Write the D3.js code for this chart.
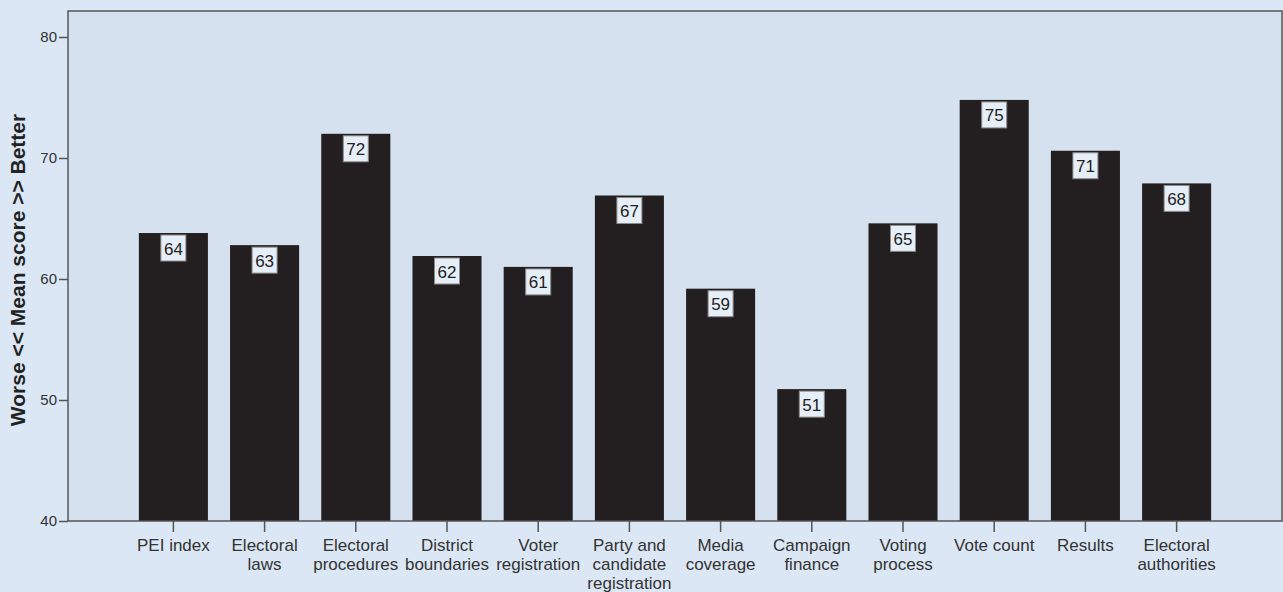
<!DOCTYPE html>
<html>
<head>
<meta charset="utf-8">
<script src="https://cdn.jsdelivr.net/npm/d3@7"></script>
<style>
  html, body { margin: 0; padding: 0; background: #dbe7f4; }
  svg { display: block; font-family: "Liberation Sans", Arial, sans-serif; }
</style>
</head>
<body>
<script>
// data
var categories = ['PEI index', 'Electoral laws', 'Electoral procedures', 'District boundaries',
  'Voter registration', 'Party and candidate registration', 'Media coverage', 'Campaign finance',
  'Voting process', 'Vote count', 'Results', 'Electoral authorities'];
var tickLines = [['PEI index'], ['Electoral', 'laws'], ['Electoral', 'procedures'], ['District', 'boundaries'],
  ['Voter', 'registration'], ['Party and', 'candidate', 'registration'], ['Media', 'coverage'], ['Campaign', 'finance'],
  ['Voting', 'process'], ['Vote count'], ['Results'], ['Electoral', 'authorities']];
var values = [63.8, 62.8, 72.0, 61.9, 61.0, 66.9, 59.2, 50.9, 64.6, 74.8, 70.6, 67.9];
var yTicks = [40, 50, 60, 70, 80];
var yTitle = 'Worse << Mean score >> Better';

//settings
var W = 1283, H = 592;
var plot = {left: 68, right: 1282, top: 11, bottom: 521};

var svg = d3.select('body').append('svg')
  .attr('width', W).attr('height', H);

svg.append('rect')
  .attr('width', W).attr('height', H)
  .attr('fill', '#dbe7f4');

svg.append('rect')
  .attr('x', plot.left).attr('y', plot.top)
  .attr('width', plot.right - plot.left).attr('height', plot.bottom - plot.top)
  .attr('fill', '#d5e1ef');

var x = d3.scaleBand()
  .domain(categories)
  .range([plot.left, plot.right])
  .paddingInner(0.243)
  .paddingOuter(0.777);

var y = d3.scaleLinear()
  .domain([40, 80])
  .range([plot.bottom, 37]);

// bars
svg.append('g').selectAll('rect')
  .data(values)
  .enter()
  .append('rect')
  .attr('x', function(d, i) { return x(categories[i]); })
  .attr('y', function(d) { return y(d); })
  .attr('width', x.bandwidth())
  .attr('height', function(d) { return y(40) - y(d); })
  .attr('fill', '#231f20');

// value labels
var labels = svg.append('g').selectAll('g')
  .data(values)
  .enter()
  .append('g')
  .attr('transform', function(d, i) {
    return 'translate(' + (x(categories[i]) + x.bandwidth() / 2) + ',' + y(d) + ')';
  });
labels.append('rect')
  .attr('x', -12.5).attr('y', 2)
  .attr('width', 25).attr('height', 26)
  .attr('fill', '#e6eef7')
  .attr('stroke', '#8a8a8a')
  .attr('stroke-width', 1);
labels.append('text')
  .attr('y', 21.5)
  .attr('text-anchor', 'middle')
  .attr('font-size', 17)
  .attr('fill', '#222')
  .text(function(d) { return Math.round(d); });

// frame
svg.append('rect')
  .attr('x', plot.left).attr('y', plot.top)
  .attr('width', plot.right - plot.left).attr('height', plot.bottom - plot.top)
  .attr('fill', 'none')
  .attr('stroke', '#555')
  .attr('stroke-width', 1.5);

// y axis
var yAxis = svg.append('g')
  .attr('transform', 'translate(' + plot.left + ',0)')
  .call(d3.axisLeft(y).tickValues(yTicks).tickSize(9).tickPadding(2));
yAxis.select('.domain').remove();
yAxis.selectAll('line').attr('stroke', '#555').attr('stroke-width', 1.5);
yAxis.selectAll('text')
  .attr('font-family', '"Liberation Sans", Arial, sans-serif')
  .attr('font-size', 15)
  .attr('fill', '#333');

// x axis
var xAxis = svg.append('g')
  .attr('transform', 'translate(0,' + plot.bottom + ')')
  .call(d3.axisBottom(x).tickSize(11).tickFormat(''));
xAxis.select('.domain').remove();
xAxis.selectAll('line').attr('stroke', '#555').attr('stroke-width', 1.5);

var xl = svg.append('g').selectAll('text')
  .data(tickLines)
  .enter()
  .append('text')
  .attr('text-anchor', 'middle')
  .attr('font-size', 17)
  .attr('fill', '#333')
  .attr('transform', function(d, i) {
    return 'translate(' + (x(categories[i]) + x.bandwidth() / 2) + ',551)';
  });
xl.selectAll('tspan')
  .data(function(d) { return d; })
  .enter()
  .append('tspan')
  .attr('x', 0)
  .attr('y', function(d, j) { return j * 19; })
  .text(function(d) { return d; });

// y title
svg.append('text')
  .attr('transform', 'translate(25,270) rotate(-90)')
  .attr('text-anchor', 'middle')
  .attr('font-size', 21)
  .attr('font-weight', 'bold')
  .attr('fill', '#222')
  .text(yTitle);
</script>
</body>
</html>
